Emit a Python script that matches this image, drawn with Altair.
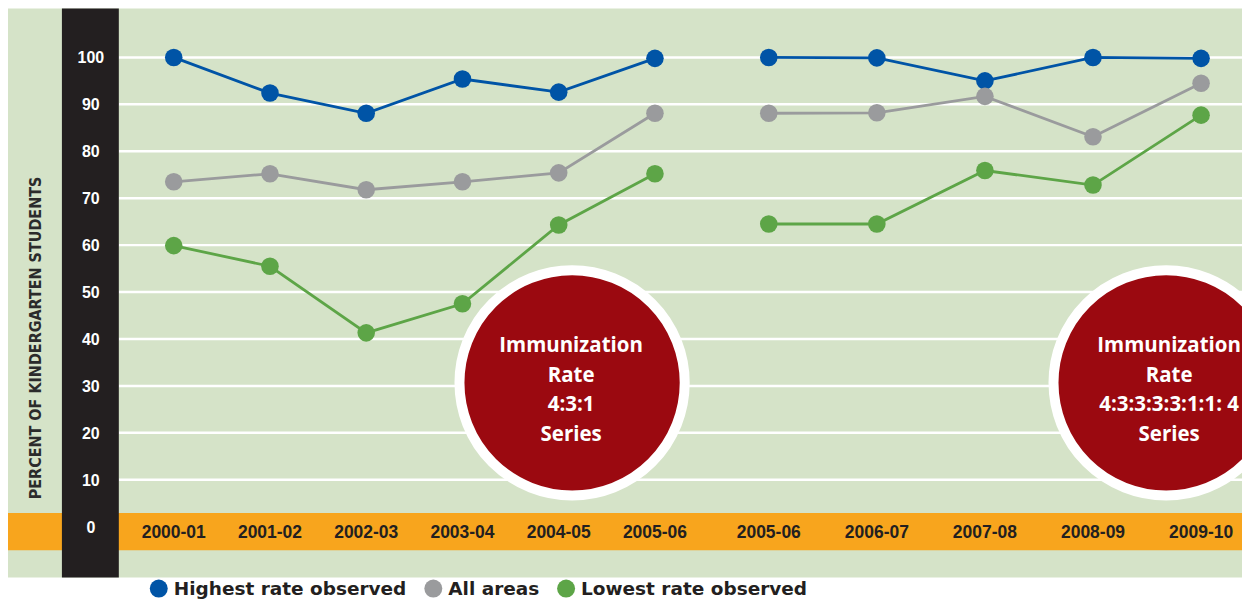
import altair as alt
import pandas as pd

# ---------------- data ----------------
seasons_a = ["2000-01", "2001-02", "2002-03", "2003-04", "2004-05", "2005-06"]
seasons_b = ["2005-06", "2006-07", "2007-08", "2008-09", "2009-10"]
series_names = ["Highest rate observed", "All areas", "Lowest rate observed"]

highest_a = [100.0, 92.4, 88.1, 95.4, 92.6, 99.8]
all_a = [73.5, 75.2, 71.8, 73.5, 75.4, 88.1]
lowest_a = [59.9, 55.5, 41.3, 47.5, 64.3, 75.2]

highest_b = [100.0, 99.9, 95.0, 100.0, 99.8]
all_b = [88.1, 88.2, 91.7, 83.1, 94.5]
lowest_b = [64.5, 64.5, 75.9, 72.8, 87.7]

y_ticks = [0, 10, 20, 30, 40, 50, 60, 70, 80, 90, 100]
axis_title = "PERCENT OF KINDERGARTEN STUDENTS"
circle_a_text = ["Immunization", "Rate", "4:3:1", "Series"]
circle_b_text = ["Immunization", "Rate", "4:3:3:3:3:1:1: 4", "Series"]

# ---------------- styles / layout ----------------
GREEN_BG = "#D5E3C8"
DARK = "#231F20"
ORANGE = "#F8A51D"
RED = "#9B0910"
BLUE = "#0054A6"
GRAY = "#9A9B9D"
GREEN = "#5DA547"
SANS = "Liberation Sans, Arial, sans-serif"
NARROW = "Liberation Sans Narrow, DejaVu Sans Condensed, Liberation Sans, sans-serif"
OPEN = "Open Sans, Liberation Sans, sans-serif"
WIDE = "DejaVu Sans, Liberation Sans, sans-serif"

W, H, H_BG = 1236, 594, 570
LEGEND_SYMBOL_X = [151, 426, 559]
LEGEND_Y = 581


def long_table(seasons, h, a, l):
    rows = []
    for name, vals in zip(series_names, [h, a, l]):
        for s, v in zip(seasons, vals):
            rows.append({"season": s, "series": name, "value": v})
    return pd.DataFrame(rows)


df_a = long_table(seasons_a, highest_a, all_a, lowest_a)
df_b = long_table(seasons_b, highest_b, all_b, lowest_b)
ticks_df = pd.DataFrame({"v": y_ticks})
grid_df = pd.DataFrame({"v": y_ticks[1:]})
legend_df = pd.DataFrame({"series": series_names})
one = pd.DataFrame({"k": [0]})

Y_SCALE = alt.Scale(domain=[-15.95, 110.43], nice=False, zero=False)
XA = alt.Scale(type="point", domain=seasons_a, range=[166, 648], padding=0)
XB = alt.Scale(type="point", domain=seasons_b, range=[762, 1195], padding=0)
COLOR = alt.Scale(domain=series_names, range=[BLUE, GRAY, GREEN])

Y_VAL = alt.Y("value:Q", scale=Y_SCALE, axis=None)

# ---------------- background / decoration ----------------
bg = alt.Chart(one).mark_rect(color=GREEN_BG).encode(
    x=alt.value(0), x2=alt.value(W), y=alt.value(0), y2=alt.value(H_BG),
)
grid = alt.Chart(grid_df).mark_rule(color="white", strokeWidth=2.5).encode(
    y=alt.Y("v:Q", scale=Y_SCALE, axis=None), x=alt.value(111), x2=alt.value(W),
)
band = alt.Chart(one).mark_rect(color=ORANGE).encode(
    y=alt.Y(datum=2.9, scale=Y_SCALE, axis=None), y2=alt.Y2(datum=-5.0),
    x=alt.value(0), x2=alt.value(W),
)
dark = alt.Chart(one).mark_rect(color=DARK).encode(
    x=alt.value(54), x2=alt.value(111), y=alt.value(0), y2=alt.value(H_BG),
)
ylabels = alt.Chart(ticks_df).mark_text(
    font=SANS, fontSize=16, fontWeight="bold", color="white",
    align="center", baseline="middle", dy=1,
).encode(y=alt.Y("v:Q", scale=Y_SCALE, axis=None), x=alt.value(83), text=alt.Text("v:Q"))
ytitle = alt.Chart(one).mark_text(
    text=axis_title, angle=270, font=NARROW, fontSize=16, fontWeight="bold",
    color="#2B2B2B", align="center", baseline="middle",
).encode(x=alt.value(28), y=alt.value(330))


def badge(cx, tx, lines):
    disc = alt.Chart(one).mark_circle(
        size=50900, color=RED, stroke="white", strokeWidth=10, opacity=1,
        strokeOpacity=1, clip=True,
    ).encode(x=alt.value(cx), y=alt.value(375))
    txt = alt.Chart(one).mark_text(
        text=lines, lineHeight=29.5, font=OPEN, fontSize=20.5, fontWeight="bold",
        color="white", align="center", baseline="middle",
    ).encode(x=alt.value(tx), y=alt.value(338.5))
    return disc, txt


def group(df, seasons, xscale):
    xenc = alt.X("season:N", scale=xscale, axis=None)
    lines = alt.Chart(df).mark_line(strokeWidth=2.8).encode(
        x=xenc, y=Y_VAL, stroke=alt.Stroke("series:N", scale=COLOR, legend=None),
    )
    pts = alt.Chart(df).mark_circle(size=310, opacity=1).encode(
        x=xenc, y=Y_VAL, color=alt.Color("series:N", scale=COLOR, legend=None),
    )
    labels = alt.Chart(pd.DataFrame({"season": seasons})).mark_text(
        font=SANS, fontSize=17.5, fontWeight="bold", color=DARK,
        align="center", baseline="middle", dy=6,
    ).encode(x=xenc, y=alt.Y(datum=0, scale=Y_SCALE, axis=None), text="season:N")
    return alt.layer(lines, pts, labels)


def legend_entries():
    out = []
    for name, sx in zip(series_names, LEGEND_SYMBOL_X):
        base = alt.Chart(legend_df).transform_filter(alt.datum.series == name)
        out.append(
            base.mark_circle(size=324, opacity=1).encode(
                x=alt.value(sx), y=alt.value(LEGEND_Y),
                color=alt.Color("series:N", scale=COLOR, legend=None),
            )
        )
        out.append(
            base.mark_text(
                align="left", baseline="middle", font=WIDE, fontSize=18.5,
                fontWeight="bold", color=DARK,
            ).encode(x=alt.value(sx + 15), y=alt.value(LEGEND_Y), text="series:N")
        )
    return out


disc_a, txt_a = badge(565, 564, circle_a_text)
disc_b, txt_b = badge(1160, 1163, circle_b_text)

chart = (
    alt.layer(
        bg, grid, band, dark, ylabels, ytitle,
        group(df_a, seasons_a, XA), group(df_b, seasons_b, XB),
        disc_a, txt_a, disc_b, txt_b,
        *legend_entries(),
    )
    .resolve_scale(x="independent")
    .properties(width=W, height=H, padding=0, background="white")
    .configure_view(stroke=None)
)

chart.save("out.html", embed_options={"renderer": "svg", "actions": False})
